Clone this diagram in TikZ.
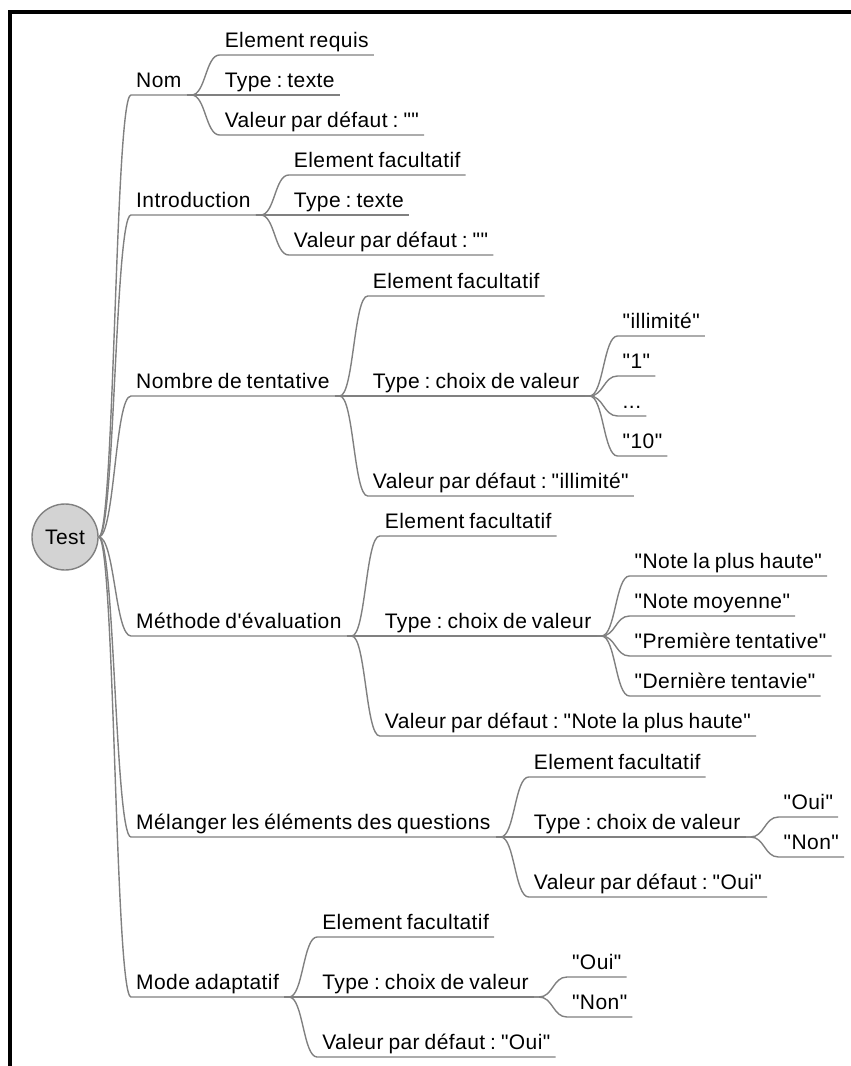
\documentclass[tikz,border=0pt]{standalone}
\usepackage{fontspec}
\newfontfamily\mapfont{Liberation Sans}[LetterSpace=2, WordSpace=0.8]
\usepackage{xcolor}
\usepackage{tikz}
\usetikzlibrary{calc}

\definecolor{branchgray}{RGB}{128,128,128}
\definecolor{rootfill}{RGB}{211,211,211}

\tikzset{
    topic/.style={anchor=south west, inner xsep=5pt, inner ysep=7pt,
        text height=15pt, text depth=0pt, font=\mapfont\fontsize{21pt}{25pt}\selectfont},
    branch/.style={draw=branchgray, line width=1.4pt},
    rootnode/.style={circle, draw=branchgray, line width=1.4pt, fill=rootfill,
        minimum size=66pt, inner sep=0pt, font=\mapfont\fontsize{21pt}{25pt}\selectfont}
}
% branche du parent vers l'enfant, puis soulignement de l'enfant
\newcommand{\branch}[2]{%
    \draw[branch] (#1.south east) -- ++(5,0)
        .. controls +(14,0) and +(-14,0) .. (#2.south west) -- (#2.south east);}
\newcommand{\rootbranch}[1]{%
    \draw[branch] (test.east)
        .. controls +(16,0) and +(-16,0) .. (#1.south west) -- (#1.south east);}

\frenchspacing
\begin{document}
\begin{tikzpicture}[x=1pt, y=-1pt]
    \useasboundingbox (0,0) rectangle (851,1066);
    % 1. Cadre
    \draw[line width=4pt] (10,1066) -- (10,12) -- (851,12);

    % 2. Racine et premier niveau
    \node[rootnode] (test) at (65,537) {Test};
    \node[topic] (nom) at (131,95) {Nom};
    \node[topic] (intro) at (131,215) {Introduction};
    \node[topic] (nombre) at (131,396) {Nombre de tentative};
    \node[topic] (methode) at (131,636) {Méthode d'évaluation};
    \node[topic] (melanger) at (131,837) {Mélanger les éléments des questions};
    \node[topic] (mode) at (131,997) {Mode adaptatif};
    \foreach \n in {nom, intro, nombre, methode, melanger, mode}
        {\rootbranch{\n}}

    % 3. Nom
    \node[topic] (nom1) at ($(nom.south east)+(33,-40)$) {Element requis};
    \node[topic] (nom2) at ($(nom.south east)+(33,0)$) {Type : texte};
    \node[topic] (nom3) at ($(nom.south east)+(33,40)$) {Valeur par défaut : ""};

    % 4. Introduction
    \node[topic] (intro1) at ($(intro.south east)+(33,-40)$) {Element facultatif};
    \node[topic] (intro2) at ($(intro.south east)+(33,0)$) {Type : texte};
    \node[topic] (intro3) at ($(intro.south east)+(33,40)$) {Valeur par défaut : ""};

    % 5. Nombre de tentative
    \node[topic] (nombre1) at ($(nombre.south east)+(33,-100)$) {Element facultatif};
    \node[topic] (nombre2) at ($(nombre.south east)+(33,0)$) {Type : choix de valeur};
    \node[topic] (nombre3) at ($(nombre.south east)+(33,100)$) {Valeur par défaut : "illimité"};
    \node[topic] (nbval1) at ($(nombre2.south east)+(33,-60)$) {"illimité"};
    \node[topic] (nbval2) at ($(nombre2.south east)+(33,-20)$) {"1"};
    \node[topic] (nbval3) at ($(nombre2.south east)+(33,20)$) {...};
    \node[topic] (nbval4) at ($(nombre2.south east)+(33,60)$) {"10"};

    % 6. Méthode d'évaluation
    \node[topic] (methode1) at ($(methode.south east)+(33,-100)$) {Element facultatif};
    \node[topic] (methode2) at ($(methode.south east)+(33,0)$) {Type : choix de valeur};
    \node[topic] (methode3) at ($(methode.south east)+(33,100)$) {Valeur par défaut : "Note la plus haute"};
    \node[topic] (mtval1) at ($(methode2.south east)+(33,-60)$) {"Note la plus haute"};
    \node[topic] (mtval2) at ($(methode2.south east)+(33,-20)$) {"Note moyenne"};
    \node[topic] (mtval3) at ($(methode2.south east)+(33,20)$) {"Première tentative"};
    \node[topic] (mtval4) at ($(methode2.south east)+(33,60)$) {"Dernière tentavie"};

    % 7. Mélanger les éléments des questions
    \node[topic] (melanger1) at ($(melanger.south east)+(33,-60)$) {Element facultatif};
    \node[topic] (melanger2) at ($(melanger.south east)+(33,0)$) {Type : choix de valeur};
    \node[topic] (melanger3) at ($(melanger.south east)+(33,60)$) {Valeur par défaut : "Oui"};
    \node[topic] (mlval1) at ($(melanger2.south east)+(33,-20)$) {"Oui"};
    \node[topic] (mlval2) at ($(melanger2.south east)+(33,20)$) {"Non"};

    % 8. Mode adaptatif
    \node[topic] (mode1) at ($(mode.south east)+(33,-60)$) {Element facultatif};
    \node[topic] (mode2) at ($(mode.south east)+(33,0)$) {Type : choix de valeur};
    \node[topic] (mode3) at ($(mode.south east)+(33,60)$) {Valeur par défaut : "Oui"};
    \node[topic] (mdval1) at ($(mode2.south east)+(33,-20)$) {"Oui"};
    \node[topic] (mdval2) at ($(mode2.south east)+(33,20)$) {"Non"};

    % 9. Branches
    \foreach \p in {nom, intro, nombre, methode, melanger, mode}
        \foreach \k in {1,2,3} {\branch{\p}{\p\k}}
    \foreach \k in {1,...,4} {\branch{nombre2}{nbval\k}}
    \foreach \k in {1,...,4} {\branch{methode2}{mtval\k}}
    \foreach \k in {1,2} {\branch{melanger2}{mlval\k}}
    \foreach \k in {1,2} {\branch{mode2}{mdval\k}}
\end{tikzpicture}
\end{document}
